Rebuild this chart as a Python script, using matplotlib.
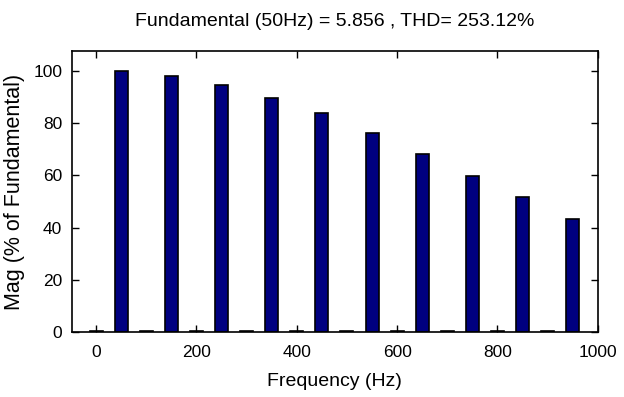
import numpy as np
import matplotlib.pyplot as plt

plt.rcParams['font.family'] = ['Liberation Sans', 'DejaVu Sans']

# harmonic spectrum, 0..950 Hz in 50 Hz steps
freq = [0, 50, 100, 150, 200, 250, 300, 350, 400, 450,
        500, 550, 600, 650, 700, 750, 800, 850, 900, 950]
mag = [0.5, 100.0, 0.4, 98.2, 0.5, 94.8, 0.4, 89.8, 0.5, 84.0,
       0.4, 76.1, 0.5, 68.3, 0.4, 59.9, 0.5, 51.6, 0.4, 43.2]

titleTxt = "Fundamental (50Hz) = 5.856 , THD= 253.12%"
xTicks = [0, 200, 400, 600, 800, 1000]
yTicks = [0, 20, 40, 60, 80, 100]

fig = plt.figure(figsize=(6.24, 3.97), dpi=100)
ax = fig.add_axes([0.1154, 0.1637, 0.8426, 0.7078])

ax.bar(freq, mag, width=26, color='#000080', edgecolor='black', linewidth=1.2)

ax.set_xlim(-48, 1000)
ax.set_ylim(0, 107.7)
ax.set_xticks(xTicks)
ax.set_yticks(yTicks)
ax.tick_params(direction='in', top=True, right=True, length=5, width=1, labelsize=12.5)
ax.tick_params(axis='x', pad=9)
ax.tick_params(axis='y', pad=7)
for sp in ax.spines.values():
    sp.set_linewidth(1.2)

ax.set_title(titleTxt, fontsize=14, pad=18)
ax.set_xlabel("Frequency (Hz)", fontsize=14, labelpad=10)
ax.set_ylabel("Mag (% of Fundamental)", fontsize=15.5, labelpad=6)

fig.savefig("out.png", dpi=100)
plt.close()
